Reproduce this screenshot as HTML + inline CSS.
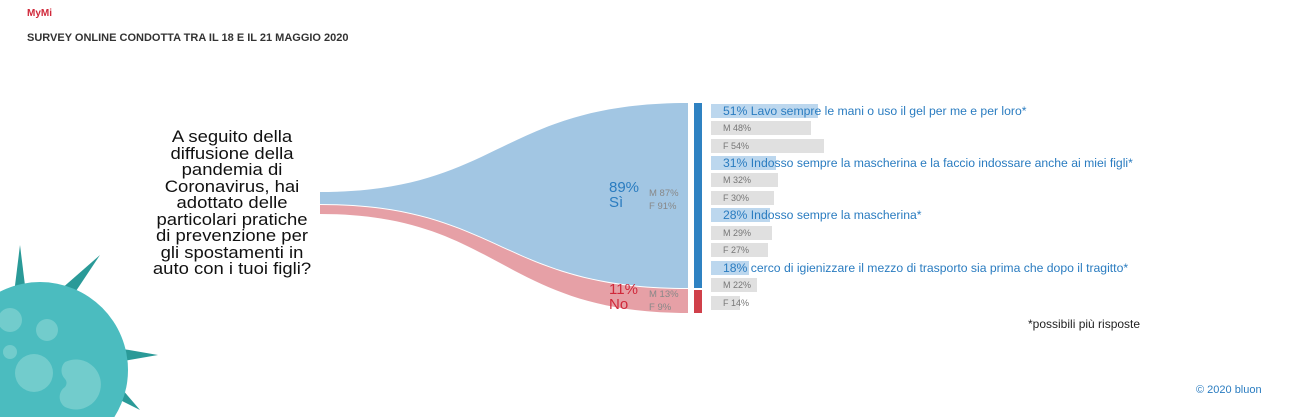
<!DOCTYPE html>
<html style="overflow:hidden"><head><meta charset="utf-8"><style>
html,body{margin:0;width:1292px;height:417px;overflow:hidden}
body{background:#fff;position:relative;font-family:"Liberation Sans",sans-serif}
.a{position:absolute;white-space:nowrap}
.q{position:absolute;left:132px;top:129px;width:200px;text-align:center;font-size:16.5px;line-height:16.5px;color:#111;white-space:nowrap;transform:scaleX(1.12);transform-origin:100px 0}
.bar{position:absolute;left:711px;height:14px;background:#e0e0e0}
.bb{background:#bcd7ee}
.lab{position:absolute;left:723px;font-size:9px;color:#777;line-height:14px;white-space:nowrap}
.lb{font-size:12.2px;color:#2a7cc0;line-height:14px}
</style></head><body>
<div class="a" style="left:27px;top:8px;color:#d0283a;font-size:10px;font-weight:bold">MyMi</div>
<div class="a" style="left:27px;top:32px;color:#333;font-size:11px;font-weight:bold">SURVEY ONLINE CONDOTTA TRA IL 18 E IL 21 MAGGIO 2020</div>
<div class="q">A seguito della<br>diffusione della<br>pandemia di<br>Coronavirus, hai<br>adottato delle<br>particolari pratiche<br>di prevenzione per<br>gli spostamenti in<br>auto con i tuoi figli?</div>
<svg class="a" style="left:0;top:0" width="1292" height="417">
<path d="M320 192 C500 192 500 103 688 103 L688 288 C500 288 500 204 320 204Z" fill="#a2c6e3"/>
<path d="M320 205 C500 205 500 289 688 289 L688 313 C500 313 500 214 320 214Z" fill="#e6a0a6"/>
<rect x="694" y="103" width="8" height="185" fill="#2f82c2"/>
<rect x="694" y="290" width="8" height="23" fill="#d0404a"/>
<g fill="#2a9a98"><polygon points="20,245 28,310 12,310"/><polygon points="100,255 70,300 60,290"/><polygon points="158,355 100,365 100,345"/><polygon points="140,410 100,390 110,375"/></g>
<circle cx="40" cy="370" r="88" fill="#4bbcbf"/>
<g fill="#72cccc"><circle cx="47" cy="330" r="11"/><circle cx="10" cy="320" r="12"/><circle cx="10" cy="352" r="7"/><circle cx="34" cy="373" r="19"/><path d="M65 362 a25 25 0 1 1 0 45 a12 12 0 0 1 0-20 a6 6 0 0 0 0-8 a12 12 0 0 1 0-17z"/></g>
</svg>
<div class="a" style="left:609px;top:180px;color:#2a7cc0;font-size:15px;line-height:15px">89%<br>Sì</div>
<div class="a" style="left:649px;top:187px;color:#888;font-size:9.5px;line-height:13px">M 87%<br>F 91%</div>
<div class="a" style="left:609px;top:282px;color:#d0283a;font-size:15px;line-height:15px">11%<br>No</div>
<div class="a" style="left:649px;top:288px;color:#888;font-size:9.5px;line-height:13px">M 13%<br>F 9%</div>
<div class="bar bb" style="top:104px;width:107px"></div><div class="lab lb" style="top:104px">51% Lavo sempre le mani o uso il gel per me e per loro*</div>
<div class="bar" style="top:121px;width:100px"></div><div class="lab" style="top:121px">M 48%</div>
<div class="bar" style="top:139px;width:113px"></div><div class="lab" style="top:139px">F 54%</div>
<div class="bar bb" style="top:156px;width:65px"></div><div class="lab lb" style="top:156px">31% Indosso sempre la mascherina e la faccio indossare anche ai miei figli*</div>
<div class="bar" style="top:173px;width:67px"></div><div class="lab" style="top:173px">M 32%</div>
<div class="bar" style="top:191px;width:63px"></div><div class="lab" style="top:191px">F 30%</div>
<div class="bar bb" style="top:208px;width:59px"></div><div class="lab lb" style="top:208px">28% Indosso sempre la mascherina*</div>
<div class="bar" style="top:226px;width:61px"></div><div class="lab" style="top:226px">M 29%</div>
<div class="bar" style="top:243px;width:57px"></div><div class="lab" style="top:243px">F 27%</div>
<div class="bar bb" style="top:261px;width:38px"></div><div class="lab lb" style="top:261px">18% cerco di igienizzare il mezzo di trasporto sia prima che dopo il tragitto*</div>
<div class="bar" style="top:278px;width:46px"></div><div class="lab" style="top:278px">M 22%</div>
<div class="bar" style="top:296px;width:29px"></div><div class="lab" style="top:296px">F 14%</div>
<div class="a" style="left:1028px;top:317px;font-size:12px;color:#222">*possibili più risposte</div>
<div class="a" style="left:1196px;top:384px;font-size:11px;color:#2a7cc0">© 2020 bluon</div>
</body></html>
